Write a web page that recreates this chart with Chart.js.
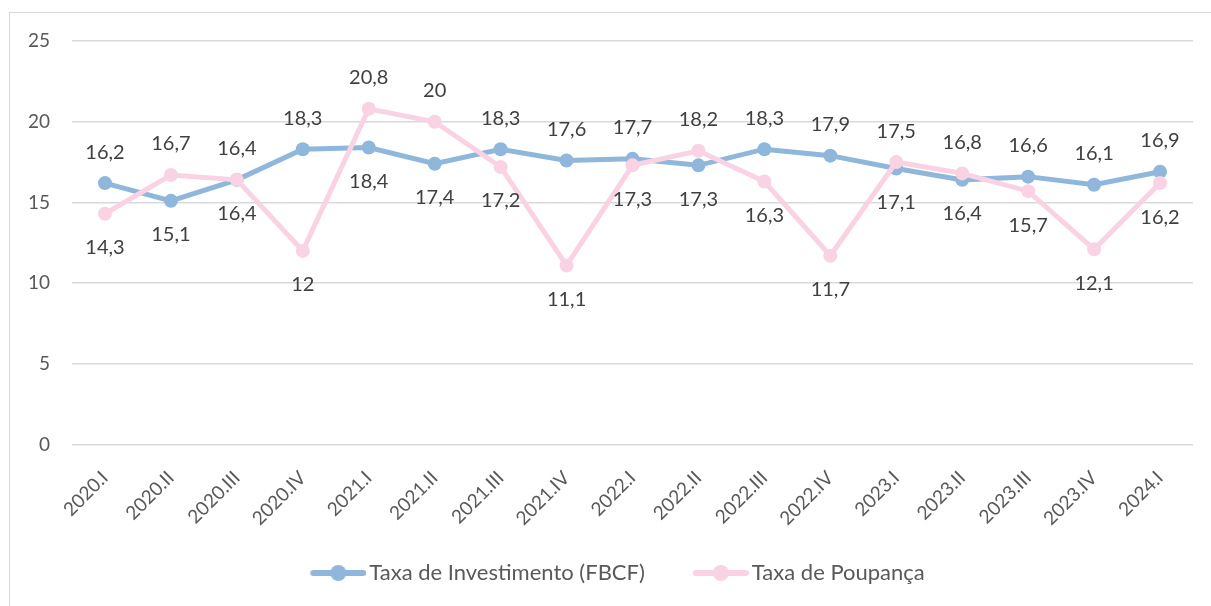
<!DOCTYPE html>
<html lang="pt">
<head>
<meta charset="UTF-8">
<title>Taxa de Investimento e Poupança</title>
<script src="https://cdn.jsdelivr.net/npm/chart.js"></script>
<style>
    html, body { margin: 0; padding: 0; background: #fff; }
    .wrap { position: relative; width: 1211px; height: 606px; }
    .frame {
        position: absolute; left: 9px; top: 12px; width: 1210px; height: 610px;
        border: 1px solid #d9d9d9; box-sizing: border-box;
    }
    canvas { position: absolute; left: 0; top: 0; }
</style>
</head>
<body>
<div class="wrap">
    <div class="frame"></div>
    <canvas id="chart" width="1211" height="606"></canvas>
</div>
<script>
    const quarters = ["2020.I", "2020.II", "2020.III", "2020.IV", "2021.I", "2021.II", "2021.III", "2021.IV",
        "2022.I", "2022.II", "2022.III", "2022.IV", "2023.I", "2023.II", "2023.III", "2023.IV", "2024.I"];
    const investimento = [16.2, 15.1, 16.4, 18.3, 18.4, 17.4, 18.3, 17.6, 17.7, 17.3, 18.3, 17.9, 17.1, 16.4, 16.6, 16.1, 16.9];
    const poupanca = [14.3, 16.7, 16.4, 12, 20.8, 20, 17.2, 11.1, 17.3, 18.2, 16.3, 11.7, 17.5, 16.8, 15.7, 12.1, 16.2];
    const yTicks = [0, 5, 10, 15, 20, 25];

    const blue = "#8fb7dc";
    const pink = "#f9d3e4";
    const font = "Lato, 'Open Sans', sans-serif";

    // line+dot image for legend entries (icon sits at the right, just before the text)
    function legendIcon(color) {
        const c = document.createElement("canvas");
        c.width = 82; c.height = 18;
        const g = c.getContext("2d");
        g.strokeStyle = color; g.lineWidth = 6; g.lineCap = "round";
        g.beginPath(); g.moveTo(29, 9); g.lineTo(79, 9); g.stroke();
        g.fillStyle = color;
        g.beginPath(); g.arc(54, 9, 8, 0, Math.PI * 2); g.fill();
        return c;
    }

    // values above/below the points: the higher series gets the label on top
    const valueLabels = {
        id: "valueLabels",
        afterUpdate(chart) {
            // legend in the original sits a bit right of the canvas centre
            chart.legend.left += 12;
            chart.legend.right += 12;
        },
        afterDatasetsDraw(chart) {
            const ctx = chart.ctx;
            const m0 = chart.getDatasetMeta(0), m1 = chart.getDatasetMeta(1);
            ctx.save();
            ctx.font = "20px " + font;
            ctx.fillStyle = "#404040";
            ctx.textAlign = "center";
            ctx.textBaseline = "middle";
            quarters.forEach((q, i) => {
                const a = investimento[i], b = poupanca[i];
                const blueUp = a >= b;
                const pa = m0.data[i], pb = m1.data[i];
                const fmt = v => String(v).replace(".", ",");
                ctx.fillText(fmt(a), pa.x, blueUp ? pa.y - 31 : pa.y + 34);
                ctx.fillText(fmt(b), pb.x, blueUp ? pb.y + 34 : pb.y - 31);
            });
            ctx.restore();
        }
    };

    new Chart(document.getElementById("chart"), {
        type: "line",
        data: {
            labels: quarters,
            datasets: [
                {
                    label: "Taxa de Investimento (FBCF)",
                    data: investimento,
                    borderColor: blue, backgroundColor: blue,
                    borderWidth: 5, pointRadius: 7, pointHoverRadius: 7,
                    pointBorderWidth: 0, tension: 0, order: 2
                },
                {
                    label: "Taxa de Poupança",
                    data: poupanca,
                    borderColor: pink, backgroundColor: pink,
                    borderWidth: 5, pointRadius: 7, pointHoverRadius: 7,
                    pointBorderWidth: 0, tension: 0, order: 1
                }
            ]
        },
        options: {
            responsive: false,
            animation: false,
            layout: { padding: { left: 0, right: 18, top: 41, bottom: 12 } },
            plugins: {
                tooltip: { enabled: false },
                legend: {
                    position: "bottom",
                    labels: {
                        color: "#595959",
                        font: { family: font, size: 22 },
                        padding: 30,
                        usePointStyle: true,
                        pointStyleWidth: 66,
                        generateLabels(chart) {
                            return chart.data.datasets.map((ds, i) => ({
                                text: ds.label,
                                fillStyle: ds.borderColor,
                                strokeStyle: ds.borderColor,
                                pointStyle: legendIcon(ds.borderColor),
                                fontColor: "#595959",
                                datasetIndex: i,
                                hidden: false
                            }));
                        }
                    }
                }
            },
            scales: {
                x: {
                    offset: true,
                    grid: { display: false },
                    border: { display: false },
                    afterFit(scale) { scale.height -= 12; },
                    ticks: {
                        color: "#595959",
                        font: { family: font, size: 19 },
                        minRotation: 45, maxRotation: 45, padding: 14
                    }
                },
                y: {
                    min: 0, max: 25,
                    afterBuildTicks(scale) { scale.ticks = yTicks.map(v => ({ value: v })); },
                    afterFit(scale) { scale.width = 72; },
                    grid: { color: "#d9d9d9", lineWidth: 1.5, drawTicks: false },
                    border: { display: false },
                    ticks: {
                        color: "#595959",
                        font: { family: font, size: 19 },
                        padding: 22
                    }
                }
            }
        },
        plugins: [valueLabels]
    });
</script>
</body>
</html>
